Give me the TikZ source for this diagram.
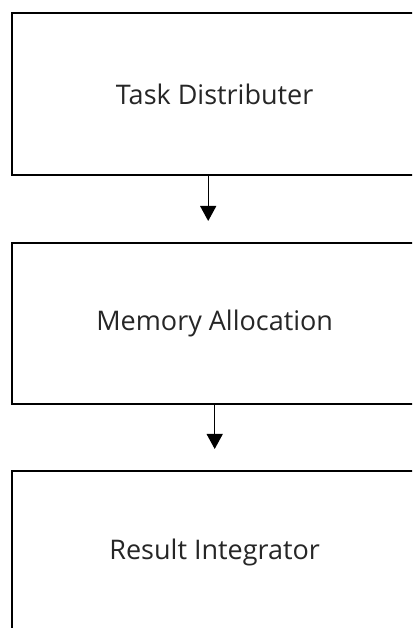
\documentclass[tikz,border=0pt]{standalone}
\usepackage{fontspec}
\setmainfont{Open Sans}
\usetikzlibrary{arrows.meta}
\tikzset{
  stage/.style={draw=black, line width=2.4pt, fill=white, anchor=north west,
    minimum width=405pt, inner sep=0pt,
    font=\fontsize{27}{32}\selectfont, text=black!85},
  flow/.style={draw=black, line width=1.3pt,
    -{Triangle[width=16pt,length=15pt]}, shorten >=21pt},
}
\begin{document}
\begin{tikzpicture}[x=1pt,y=1pt]
  \useasboundingbox (0,0) rectangle (412,628);
  \clip (0,0) rectangle (412,628);
  \fill[white] (0,0) rectangle (412,628);

  % three processing stages, stacked top to bottom
  \node[stage, minimum height=162pt] (td) at (11,616) {Task Distributer};
  \node[stage, minimum height=161pt] (ma) at (11,386) {Memory Allocation};
  \node[stage, minimum height=162pt] (ri) at (11,158) {Result Integrator};

  % downward flow between stages
  \draw[flow] ([xshift=-6.5pt]td.south) -- ([xshift=-6.5pt]td.south |- ma.north);
  \draw[flow] (ma.south) -- (ma.south |- ri.north);
\end{tikzpicture}
\end{document}
